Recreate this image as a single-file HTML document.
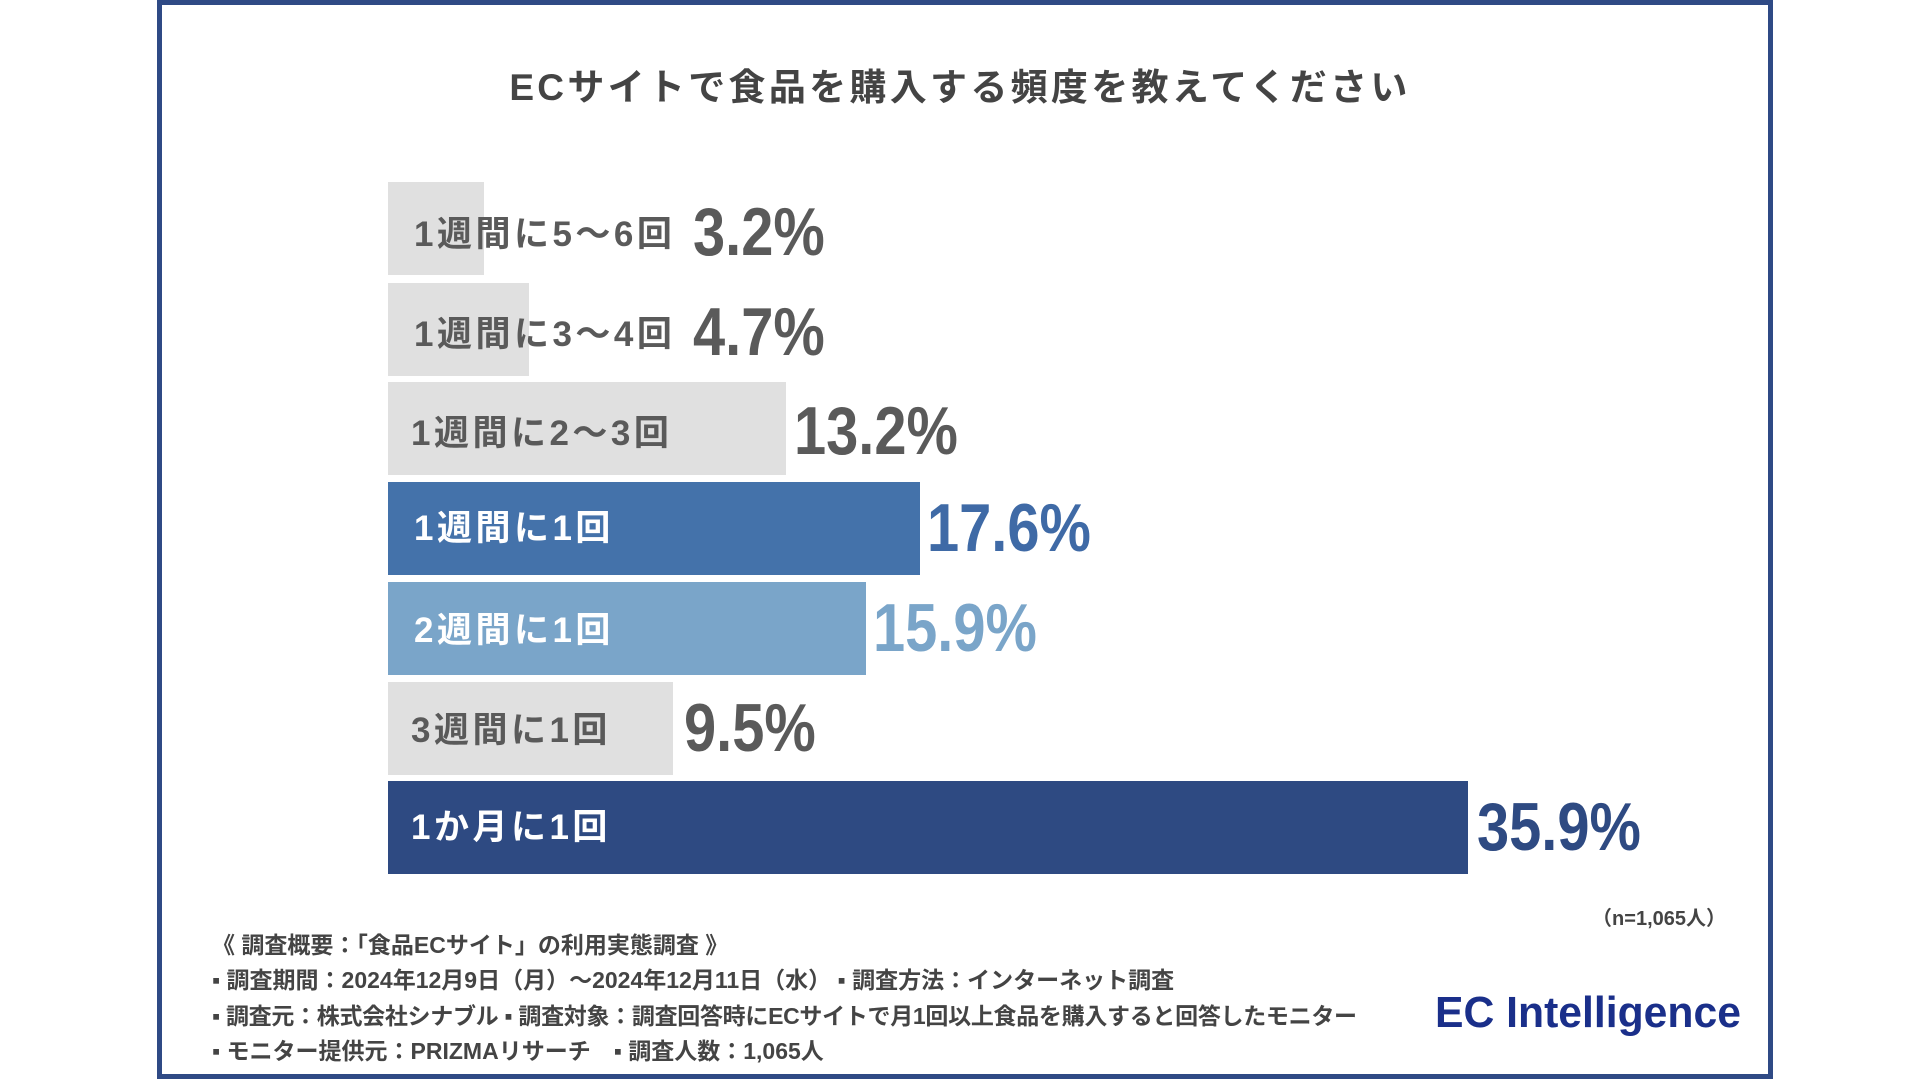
<!DOCTYPE html>
<html><head><meta charset="utf-8"><style>
*{margin:0;padding:0;box-sizing:border-box}
body{width:1920px;height:1080px;background:#fff;position:relative;overflow:hidden;font-family:"Liberation Sans","Noto Sans CJK JP",sans-serif;font-weight:bold}
.frame{position:absolute;left:157px;top:0;width:1616px;height:1079px;border:5px solid #2f4a85}
.title{position:absolute;left:0;width:1920px;top:57px;text-align:center;font-size:37px;color:#444;letter-spacing:3.3px}
.bar{position:absolute;left:388px;height:93px}
.lab{position:absolute;left:414px;font-size:35px;line-height:93px;height:93px;white-space:nowrap;letter-spacing:3.5px}
.val{position:absolute;font-family:"Liberation Sans",sans-serif;font-size:68px;line-height:93px;height:93px;transform:scaleX(0.85);transform-origin:left center;white-space:nowrap}
.g{background:#e0e0e0}.gt{color:#5a5a5a}
.foot{position:absolute;left:212px;font-size:23px;color:#444;white-space:nowrap}
</style></head><body>
<div class="frame"></div>
<div class="title">ECサイトで食品を購入する頻度を教えてください</div>

<div class="bar g" style="top:182px;width:96px"></div>
<div class="lab gt" style="top:188px">1週間に5～6回</div>
<div class="val gt" style="top:186px;left:693px">3.2%</div>

<div class="bar g" style="top:283px;width:141px"></div>
<div class="lab gt" style="top:288px">1週間に3～4回</div>
<div class="val gt" style="top:286px;left:693px">4.7%</div>

<div class="bar g" style="top:382px;width:398px"></div>
<div class="lab gt" style="top:387px;left:411px">1週間に2～3回</div>
<div class="val gt" style="top:385px;left:794px">13.2%</div>

<div class="bar" style="top:482px;width:532px;background:#4472aa"></div>
<div class="lab" style="top:482px;color:#fff">1週間に1回</div>
<div class="val" style="top:482px;left:927px;color:#3f6aa6">17.6%</div>

<div class="bar" style="top:582px;width:478px;background:#7aa5c9"></div>
<div class="lab" style="top:584px;color:#fff">2週間に1回</div>
<div class="val" style="top:582px;left:873px;color:#7aa5c9">15.9%</div>

<div class="bar g" style="top:682px;width:285px"></div>
<div class="lab gt" style="top:684px;left:411px">3週間に1回</div>
<div class="val gt" style="top:682px;left:684px">9.5%</div>

<div class="bar" style="top:781px;width:1080px;background:#2e4a82"></div>
<div class="lab" style="top:781px;left:411px;color:#fff">1か月に1回</div>
<div class="val" style="top:781px;left:1477px;color:#2e4a82">35.9%</div>

<div class="foot" style="left:auto;right:194px;top:902px;font-size:20px">（n=1,065人）</div>
<div class="foot" style="top:926px">《 調査概要：「食品ECサイト」の利用実態調査 》</div>
<div class="foot" style="top:961px">▪ 調査期間：2024年12月9日（月）～2024年12月11日（水） ▪ 調査方法：インターネット調査</div>
<div class="foot" style="top:997px;letter-spacing:-0.3px">▪ 調査元：株式会社シナブル ▪ 調査対象：調査回答時にECサイトで月1回以上食品を購入すると回答したモニター</div>
<div class="foot" style="top:1032px">▪ モニター提供元：PRIZMAリサーチ　▪ 調査人数：1,065人</div>
<div style="position:absolute;left:1435px;top:988px;font-size:44px;color:#1a2f8a;font-weight:bold;white-space:nowrap;transform:scaleX(0.97);transform-origin:left">EC Intelligence</div>
</body></html>
